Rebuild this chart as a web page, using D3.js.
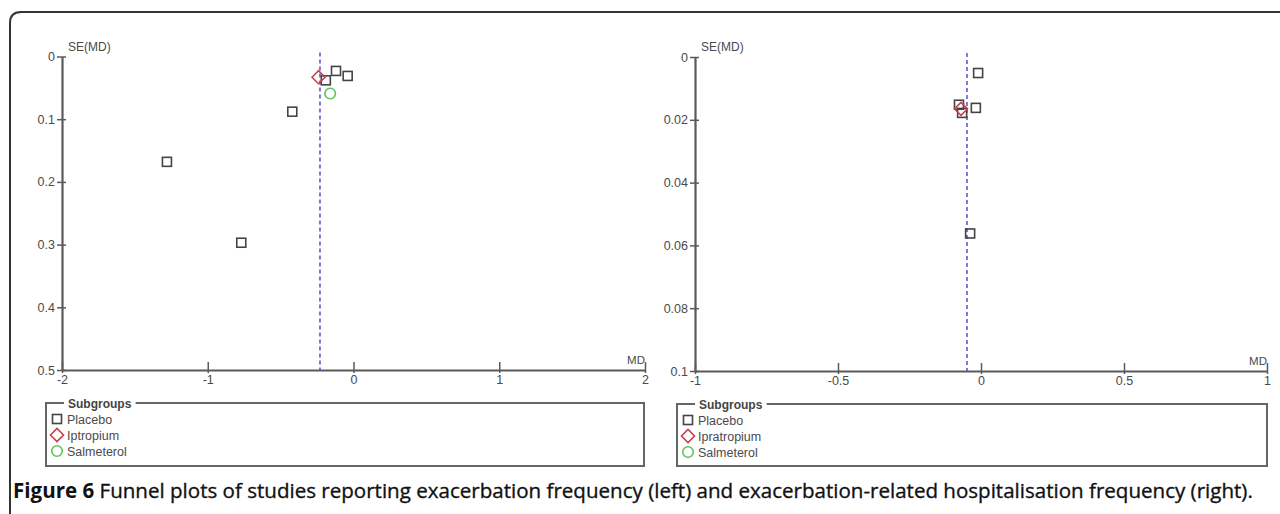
<!DOCTYPE html>
<html><head><meta charset="utf-8">
<script src="https://cdn.jsdelivr.net/npm/d3@7"></script>
<style>
html,body{margin:0;padding:0;background:#fff;}
svg{display:block;}
</style></head>
<body>
<svg id="chart" width="1280" height="514"></svg>
<script>
// ---------- data ----------
const subgroupsLeft = ["Placebo", "Iptropium", "Salmeterol"];
const subgroupsRight = ["Placebo", "Ipratropium", "Salmeterol"];

const leftXTicks = [-2, -1, 0, 1, 2];
const leftYTicks = [0, 0.1, 0.2, 0.3, 0.4, 0.5];
const leftPlaceboMD = [-1.28, -0.77, -0.42, -0.19, -0.12, -0.04];
const leftPlaceboSE = [0.168, 0.297, 0.088, 0.038, 0.023, 0.031];
const leftIpratropiumMD = [-0.24];
const leftIpratropiumSE = [0.033];
const leftSalmeterolMD = [-0.16];
const leftSalmeterolSE = [0.059];
const leftPooledMD = -0.23;

const rightXTicks = [-1, -0.5, 0, 0.5, 1];
const rightYTicks = [0, 0.02, 0.04, 0.06, 0.08, 0.1];
const rightPlaceboMD = [-0.01, -0.018, -0.077, -0.066, -0.038];
const rightPlaceboSE = [0.0051, 0.0162, 0.0152, 0.0178, 0.0562];
const rightIpratropiumMD = [-0.07];
const rightIpratropiumSE = [0.0165];
const rightSalmeterolMD = [];
const rightSalmeterolSE = [];
const rightPooledMD = -0.049;

const captionBold = "Figure 6";
const captionRest = " Funnel plots of studies reporting exacerbation frequency (left) and exacerbation-related hospitalisation frequency (right).";

// ---------- drawing ----------
const svg = d3.select("#chart");
const AX = "#5a5a5a";
const FONT = "'Liberation Sans', Arial, sans-serif";
const TXT = "#4a4a4a";
const COL = {sq: "#444", dia: "#c8404e", cir: "#5cc45c", pooled: "#4a3fc8"};

// outer frame
svg.append("path")
  .attr("d", "M10,514 L10,23 Q10,12 21,12 L1280,12")
  .attr("fill", "none").attr("stroke", "#333").attr("stroke-width", 2);

function sym(g, type, cx, cy) {
  if (type === 0) {
    g.append("rect").attr("x", cx - 4.5).attr("y", cy - 4.5).attr("width", 9).attr("height", 9)
      .attr("fill", "none").attr("stroke", COL.sq).attr("stroke-width", 1.6);
  } else if (type === 1) {
    const r = 6.5;
    g.append("path").attr("d", `M${cx - r},${cy} L${cx},${cy - r} L${cx + r},${cy} L${cx},${cy + r} Z`)
      .attr("fill", "none").attr("stroke", COL.dia).attr("stroke-width", 1.6);
  } else {
    g.append("circle").attr("cx", cx).attr("cy", cy).attr("r", 5.3)
      .attr("fill", "none").attr("stroke", COL.cir).attr("stroke-width", 1.6);
  }
}

function panel(o) {
  const x = d3.scaleLinear().domain([o.xTicks[0], o.xTicks[o.xTicks.length - 1]]).range([o.x0, o.x1]);
  const y = d3.scaleLinear().domain([0, o.yTicks[o.yTicks.length - 1]]).range([o.y0, o.y1]);
  const g = svg.append("g");

  // pooled estimate dashed line
  g.append("line")
    .attr("x1", x(o.pooled)).attr("x2", x(o.pooled))
    .attr("y1", y(0) - 4).attr("y2", y.range()[1])
    .attr("stroke", COL.pooled).attr("stroke-width", 1.4).attr("stroke-dasharray", "4,3");

  // y axis
  const ya = g.append("g").attr("transform", `translate(${o.x0},0)`)
    .call(d3.axisLeft(y).tickValues(o.yTicks).tickSizeInner(5).tickSizeOuter(0).tickPadding(2)
      .tickFormat(d => String(+d.toFixed(3))));
  ya.select(".domain").attr("stroke", AX).attr("stroke-width", 2.2);
  ya.selectAll(".tick line").attr("x1", 4).attr("stroke", AX).attr("stroke-width", 1.5);
  ya.selectAll(".tick text").attr("fill", TXT).style("font", `12.5px ${FONT}`);

  // x axis
  const xa = g.append("g").attr("transform", `translate(0,${o.y1})`)
    .call(d3.axisBottom(x).tickValues(o.xTicks).tickSizeInner(3).tickSizeOuter(0).tickPadding(2)
      .tickFormat(d => String(d)));
  xa.select(".domain").attr("stroke", AX).attr("stroke-width", 2.2);
  xa.selectAll(".tick line").attr("y1", -8).attr("stroke", AX).attr("stroke-width", 1.5);
  xa.selectAll(".tick text").attr("fill", TXT).style("font", `12.5px ${FONT}`);

  // axis titles
  g.append("text").attr("x", o.x0 + 6).attr("y", o.y0 - 6).text("SE(MD)")
    .attr("fill", TXT).style("font", `12px ${FONT}`);
  g.append("text").attr("x", o.x1).attr("y", o.y1 - 6).attr("text-anchor", "end").text("MD")
    .attr("fill", TXT).style("font", `11.5px ${FONT}`);

  // points
  const pts = g.append("g");
  o.series.forEach((s, si) => {
    s.md.forEach((m, i) => sym(pts, si, x(m), y(s.se[i])));
  });

  // legend
  const lg = svg.append("g");
  lg.append("rect").attr("x", o.lx0).attr("y", o.ly0).attr("width", o.lx1 - o.lx0).attr("height", o.ly1 - o.ly0)
    .attr("fill", "none").attr("stroke", "#666").attr("stroke-width", 2);
  const title = lg.append("text").attr("x", o.lx0 + 22).attr("y", o.ly0 + 4.5).text("Subgroups")
    .attr("fill", "#444").style("font", `bold 12px ${FONT}`);
  const bb = title.node().getBBox();
  lg.insert("rect", "text").attr("x", bb.x - 4).attr("y", o.ly0 - 2).attr("width", bb.width + 8).attr("height", 4)
    .attr("fill", "#fff");
  o.names.forEach((n, i) => {
    const cy = o.ly0 + 16 + i * 16;
    sym(lg, i, o.lx0 + 11, cy);
    lg.append("text").attr("x", o.lx0 + 21).attr("y", cy + 4.5).text(n)
      .attr("fill", TXT).style("font", `12.5px ${FONT}`);
  });
}

panel({
  x0: 62, x1: 645, y0: 56.5, y1: 370,
  xTicks: leftXTicks, yTicks: leftYTicks, pooled: leftPooledMD,
  series: [
    {md: leftPlaceboMD, se: leftPlaceboSE},
    {md: leftIpratropiumMD, se: leftIpratropiumSE},
    {md: leftSalmeterolMD, se: leftSalmeterolSE}
  ],
  names: subgroupsLeft,
  lx0: 46, lx1: 644, ly0: 403, ly1: 466
});

panel({
  x0: 695, x1: 1267, y0: 57, y1: 371,
  xTicks: rightXTicks, yTicks: rightYTicks, pooled: rightPooledMD,
  series: [
    {md: rightPlaceboMD, se: rightPlaceboSE},
    {md: rightIpratropiumMD, se: rightIpratropiumSE},
    {md: rightSalmeterolMD, se: rightSalmeterolSE}
  ],
  names: subgroupsRight,
  lx0: 677, lx1: 1267, ly0: 404, ly1: 466
});

// caption
const cap = svg.append("text").attr("x", 13).attr("y", 498).attr("fill", "#111")
  .style("font-family", "'Open Sans', 'Noto Sans', sans-serif");
cap.append("tspan").attr("font-weight", "bold").text(captionBold);
cap.append("tspan").attr("stroke", "#111").attr("stroke-width", 0.35).text(captionRest);
let fs = 16;
cap.style("font-size", fs + "px");
const w = cap.node().getComputedTextLength();
fs = fs * 1240 / w;
cap.style("font-size", fs.toFixed(2) + "px");
</script>
</body></html>
